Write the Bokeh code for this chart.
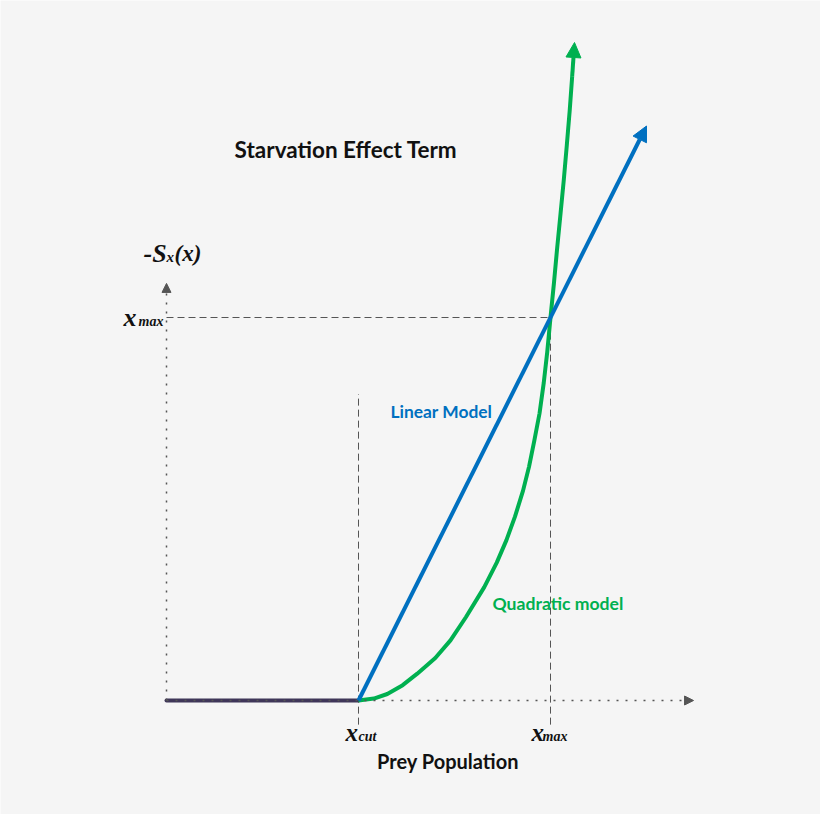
from bokeh.plotting import figure
from bokeh.models import Arrow, NormalHead, Label, Range1d
from bokeh.embed import file_html
from bokeh.resources import INLINE

# ---- data (model units) ----
x_cut = 1.0
x_max = 2.0
y_at_xmax = 1.0
x_axis_end = 2.745
y_axis_end = 1.089
guide_bottom = -0.063
cut_guide_top = 0.80

starv_x = [0.0, 1.0]
starv_y = [0.0, 0.0]

linear_x = [1.0, 2.5]
linear_y = [0.0, 1.5]

quad_x = [1.000, 1.080, 1.150, 1.230, 1.306, 1.400, 1.479, 1.560, 1.655, 1.720, 1.770,
          1.815, 1.857, 1.888, 1.916, 1.943, 1.965, 1.983, 2.000, 2.018, 2.035, 2.052,
          2.069, 2.085, 2.100, 2.113, 2.125]
quad_y = [0.000, 0.005, 0.017, 0.040, 0.070, 0.111, 0.157, 0.218, 0.296, 0.360, 0.418,
          0.480, 0.548, 0.610, 0.679, 0.750, 0.830, 0.910, 1.000, 1.090, 1.183, 1.270,
          1.358, 1.450, 1.540, 1.630, 1.718]

W, H = 820, 814
BG = "#f5f5f5"
AX = "#555555"
BLUE = "#0070c0"
GREEN = "#00b050"
PURPLE = "#3f3659"
OX, OY = 166, 700      # screen position of the model origin (from top-left)
SX, SY = 192, 383      # pixels per model unit

p = figure(width=W, height=H, output_backend="svg", toolbar_location=None,
           x_range=Range1d(-OX / SX, (W - OX) / SX),
           y_range=Range1d(-(H - OY) / SY, OY / SY),
           min_border=0, min_border_left=0, min_border_right=0,
           min_border_top=0, min_border_bottom=0)
p.axis.visible = False
p.grid.visible = False
p.outline_line_color = None
p.background_fill_color = BG
p.border_fill_color = BG

# dashed guides
p.line([0, x_max], [y_at_xmax, y_at_xmax], line_color=AX, line_width=1, line_dash="7 4")
p.line([x_cut, x_cut], [guide_bottom, cut_guide_top], line_color=AX, line_width=1, line_dash="7 4")
p.line([x_max, x_max], [guide_bottom, y_at_xmax], line_color=AX, line_width=1, line_dash="7 4")

# dotted axes with arrowheads
p.add_layout(Arrow(x_start=0, y_start=0, x_end=0, y_end=y_axis_end,
                   line_color=AX, line_width=1.5, line_dash="2 7",
                   end=NormalHead(size=9, fill_color=AX, line_color=AX, line_width=1)))
p.add_layout(Arrow(x_start=0, y_start=0, x_end=x_axis_end, y_end=0,
                   line_color=AX, line_width=1.5, line_dash="2 7",
                   end=NormalHead(size=9, fill_color=AX, line_color=AX, line_width=1)))

# curves
p.line(starv_x, starv_y, line_color=PURPLE, line_width=4, line_cap="round")
p.line(quad_x[:-1], quad_y[:-1], line_color=GREEN, line_width=4, line_join="round")
p.add_layout(Arrow(x_start=quad_x[-2], y_start=quad_y[-2], x_end=quad_x[-1], y_end=quad_y[-1],
                   line_color=GREEN, line_width=4,
                   end=NormalHead(size=15, fill_color=GREEN, line_color=GREEN, line_width=1)))
p.add_layout(Arrow(x_start=linear_x[0], y_start=linear_y[0], x_end=linear_x[1], y_end=linear_y[1],
                   line_color=BLUE, line_width=4,
                   end=NormalHead(size=15, fill_color=BLUE, line_color=BLUE, line_width=1)))

DY = 7  # labels render slightly low; lift them


def lab(x, y, text, size, color="#111111", font="Lato", style="bold", align="left"):
    p.add_layout(Label(x=x, y=H - y + DY, x_units="screen", y_units="screen", text=text,
                       text_font=font, text_font_size=f"{size}px", text_font_style=style,
                       text_color=color, text_align=align, text_baseline="alphabetic"))


SERIF = "Liberation Serif"
lab(345.5, 156, "Starvation Effect Term", 22.5, align="center")
lab(447.5, 767, "Prey Population", 20, align="center")
lab(390, 418, "Linear Model", 17.4, color=BLUE)
lab(492, 610, "Quadratic model", 17.6, color=GREEN)

# -S_x(x)
lab(143, 260, "-S", 26, font=SERIF, style="bold italic")
lab(166, 263, "x", 15, font=SERIF, style="bold italic")
lab(174, 260, "(x)", 23, font=SERIF, style="bold italic")

# x_max on y axis
lab(123, 324, "x", 26, font=SERIF, style="bold italic")
lab(138, 328, "max", 14, font=SERIF, style="bold italic")
# x_cut / x_max below x axis
lab(345, 739, "x", 25, font=SERIF, style="bold italic")
lab(358, 743, "cut", 14, font=SERIF, style="bold italic")
lab(531, 739, "x", 25, font=SERIF, style="bold italic")
lab(542, 743, "max", 14, font=SERIF, style="bold italic")

open("out.html", "w").write(file_html(p, INLINE))
